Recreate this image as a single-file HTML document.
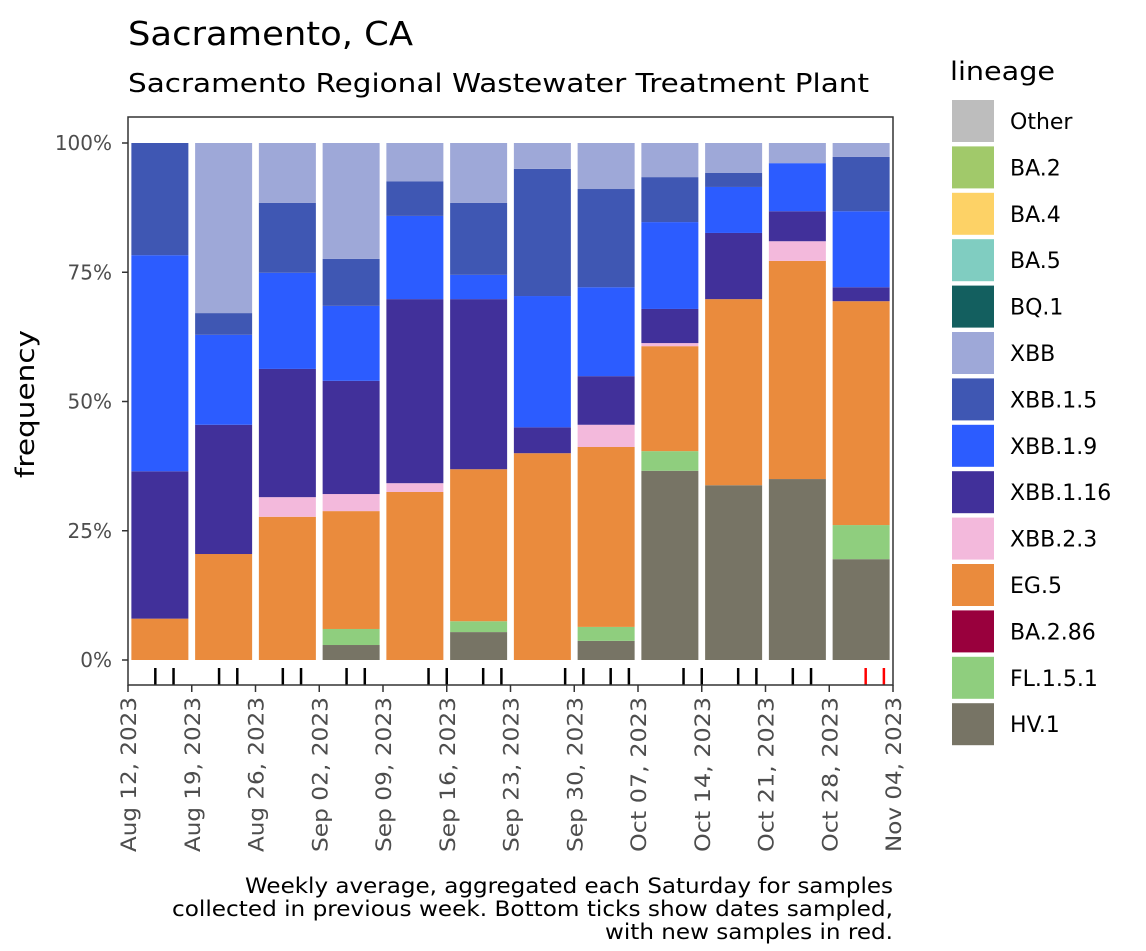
<!DOCTYPE html>
<html><head><meta charset="utf-8"><style>
body{margin:0;background:#fff;}
svg text{font-family:"DejaVu Sans","Liberation Sans",sans-serif;}
</style></head><body>
<svg id="chart" width="1146" height="946" viewBox="0 0 1146 946" xmlns="http://www.w3.org/2000/svg">
<text x="128" y="45" font-size="33" textLength="285" lengthAdjust="spacingAndGlyphs" fill="#000">Sacramento, CA</text>
<text x="128" y="92" font-size="26" textLength="741" lengthAdjust="spacingAndGlyphs" fill="#000">Sacramento Regional Wastewater Treatment Plant</text>
<text transform="translate(34,404) rotate(-90)" text-anchor="middle" font-size="26" textLength="148" lengthAdjust="spacingAndGlyphs" fill="#000">frequency</text>
<g id="plot"></g>
<g id="legend"></g>
<text x="893" y="893" text-anchor="end" font-size="21" textLength="648" lengthAdjust="spacingAndGlyphs" fill="#000">Weekly average, aggregated each Saturday for samples</text>
<text x="893" y="916" text-anchor="end" font-size="21" textLength="721" lengthAdjust="spacingAndGlyphs" fill="#000">collected in previous week. Bottom ticks show dates sampled,</text>
<text x="893" y="939" text-anchor="end" font-size="21" textLength="288" lengthAdjust="spacingAndGlyphs" fill="#000">with new samples in red.</text>
</svg>
<script>
const lineages = ["Other","BA.2","BA.4","BA.5","BQ.1","XBB","XBB.1.5","XBB.1.9","XBB.1.16","XBB.2.3","EG.5","BA.2.86","FL.1.5.1","HV.1"];
const colors = ["#bdbdbd","#a1c96a","#fdd266","#80cdc1","#135f5f","#9ea8d8","#3f57b3","#2c5cff","#41309a","#f3b9dc","#ea8b3d","#99003d","#8fce7e","#777465"];
const weeks = ["Aug 12, 2023","Aug 19, 2023","Aug 26, 2023","Sep 02, 2023","Sep 09, 2023","Sep 16, 2023","Sep 23, 2023","Sep 30, 2023","Oct 07, 2023","Oct 14, 2023","Oct 21, 2023","Oct 28, 2023","Nov 04, 2023"];
const stackOrder = ["HV.1","FL.1.5.1","BA.2.86","EG.5","XBB.2.3","XBB.1.16","XBB.1.9","XBB.1.5","XBB","BQ.1","BA.5","BA.4","BA.2","Other"];
const hv1     = [0,0,0,2.9,0,5.4,0,3.7,36.6,33.8,35,19.5];
const fl151   = [0,0,0,3.1,0,2.1,0,2.7,3.8,0,0,6.6];
const ba286   = [0,0,0,0,0,0,0,0,0,0,0,0];
const eg5     = [8,20.5,27.7,22.8,32.5,29.4,40,34.8,20.3,36,42.2,43.3];
const xbb23   = [0,0,3.8,3.3,1.7,0,0,4.3,0.6,0,3.8,0];
const xbb116  = [28.5,25,24.8,21.9,35.6,32.9,5,9.4,6.6,12.8,5.8,2.7];
const xbb19   = [41.8,17.4,18.6,14.5,16.1,4.7,25.4,17.2,16.8,8.9,9.3,14.7];
const xbb15   = [21.7,4.2,13.5,9.1,6.7,13.9,24.6,19,8.7,2.7,0,10.5];
const xbb     = [0,32.9,11.6,22.4,7.4,11.6,5,8.9,6.6,5.8,3.9,2.7];
const other   = [0,0,0,0,0,0,0,0,0,0,0,0];
const sharesByLineage = {"HV.1":hv1,"FL.1.5.1":fl151,"BA.2.86":ba286,"EG.5":eg5,"XBB.2.3":xbb23,"XBB.1.16":xbb116,"XBB.1.9":xbb19,"XBB.1.5":xbb15,"XBB":xbb,"BQ.1":other,"BA.5":other,"BA.4":other,"BA.2":other,"Other":other};
const yTicks = [0,25,50,75,100];
const yTickLabels = ["0%","25%","50%","75%","100%"];
const sampleDays = [3,5,10,12,17,19,24,26,33,35,39,41,48,50,53,55,61,63,67,69,73,75,81,83];
const sampleNew  = [0,0,0,0,0,0,0,0,0,0,0,0,0,0,0,0,0,0,0,0,0,0,1,1];

const NS="http://www.w3.org/2000/svg";
const X0=128,X1=893,PT=117,PB=685;
const xDay=d=>X0+(X1-X0)*d/84;
const yPct=p=>660-p*517/100;
function mk(tag,attrs,parent){const e=document.createElementNS(NS,tag);for(const k in attrs)e.setAttribute(k,attrs[k]);parent.appendChild(e);return e;}
const plot=document.getElementById('plot');
const bg=mk('rect',{x:X0,y:PT,width:X1-X0,height:PB-PT,fill:'#fff'},plot);


yTicks.forEach((t,i)=>{
  const y=yPct(t);
  const l=mk('line',{x1:X0-6,x2:X0,y1:y,y2:y,stroke:'#333','stroke-width':1.5},plot);
  
  
  const tx=mk('text',{x:X0-16,y:y+7,'text-anchor':'end','font-size':20,fill:'#4d4d4d'},plot);
  tx.textContent=yTickLabels[i];
  
  
});
for(let b=0;b<12;b++){
  const x=xDay(b*7+3.5)-28.5;
  let cum=0;
  stackOrder.forEach(name=>{
    const v=sharesByLineage[name][b];
    if(v<=0)return;
    const r=mk('rect',{x:x,width:57,y:yPct(cum+v),height:yPct(cum)-yPct(cum+v),fill:colors[lineages.indexOf(name)]},plot);
    
    
    cum+=v;
  });
}
sampleDays.forEach((d,i)=>{
  const x=xDay(d);
  const l=mk('line',{x1:x,x2:x,y1:668,y2:685,stroke:sampleNew[i]?'#ff0000':'#000','stroke-width':2.5},plot);
  
  
});
const fr=mk('rect',{x:X0,y:PT,width:X1-X0,height:PB-PT,fill:'none',stroke:'#333','stroke-width':1.5},plot);


weeks.forEach((w,i)=>{
  const x=xDay(i*7);
  const l=mk('line',{x1:x,x2:x,y1:PB,y2:PB+7,stroke:'#333','stroke-width':1.5},plot);
  
  
  const t=mk('text',{transform:`translate(${x+8},${PB+12}) rotate(-90)`,'text-anchor':'end','font-size':21,textLength:155,lengthAdjust:'spacingAndGlyphs',fill:'#4d4d4d'},plot);
  t.textContent=w;
  
  
});
const lg=document.getElementById('legend');
const lt=mk('text',{x:950,y:80,'font-size':26,textLength:105,lengthAdjust:'spacingAndGlyphs',fill:'#000'},lg);
lt.textContent='lineage';


lineages.forEach((n,i)=>{
  const y=100+i*46.4;
  const r=mk('rect',{x:952,y:y,width:42,height:42,fill:colors[i]},lg);
  
  
  const t=mk('text',{x:1010,y:y+29,'font-size':22,fill:'#000'},lg);
  t.textContent=n;
  
  
});
</script>
</body></html>
